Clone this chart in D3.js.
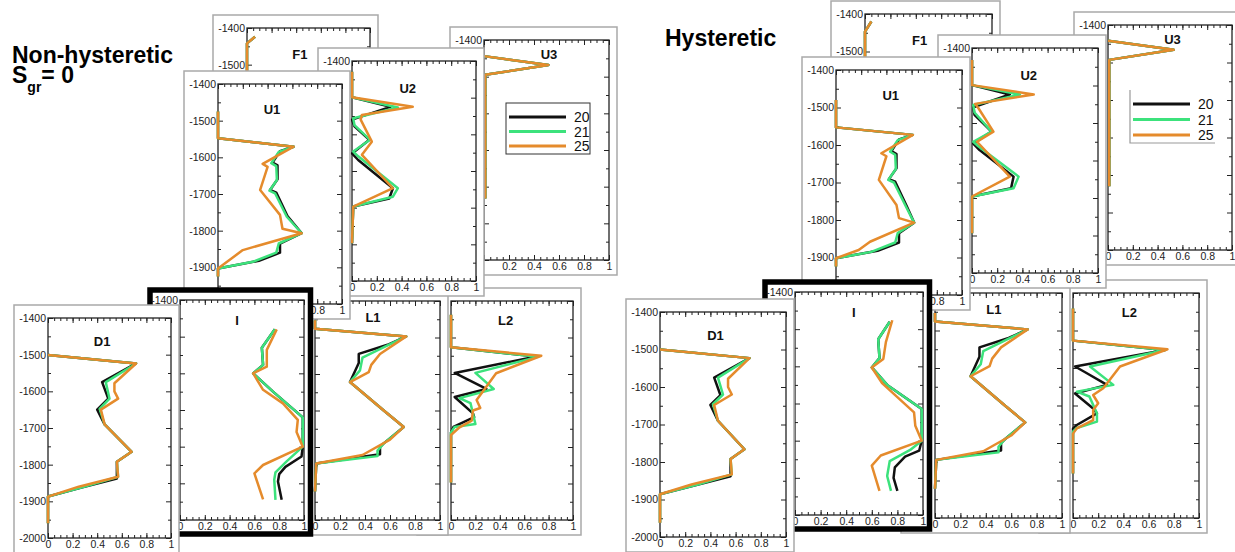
<!DOCTYPE html>
<html>
<head>
<meta charset="utf-8">
<script src="https://cdn.jsdelivr.net/npm/d3@7"></script>
<style>
  body { margin: 0; background: #fff; }
  svg { display: block; font-family: "Liberation Sans", Arial, sans-serif; }
</style>
</head>
<body>
<svg id="chart" width="1235" height="552"></svg>
<script>
// ---------------- data ----------------
const seriesNames = ["20", "21", "25"];
const seriesColors = ["#111111", "#3ce27c", "#e58b2c"];
const depthTicks = [-1400, -1500, -1600, -1700, -1800, -1900, -2000];
const fracTicks = [0, 0.2, 0.4, 0.6, 0.8, 1];
const fracTickLabels = ["0", "0.2", "0.4", "0.6", "0.8", "1"];
const panelNames = ["F1", "U3", "L2", "L1", "U2", "U1", "I", "D1"]; // back to front

// profiles as [fraction, depth]
// ---- non-hysteretic ----
const nhF1_20 = [[0.065, -1424], [0, -1442], [0, -1600]];
const nhF1_21 = [[0.065, -1424], [0, -1442], [0, -1600]];
const nhF1_25 = [[0.065, -1424], [0, -1442], [0, -1600]];

const nhU1_20 = [[0, -1475], [0, -1548], [0.61, -1571], [0.50, -1583], [0.44, -1614], [0.48, -1622], [0.48, -1660], [0.42, -1689], [0.47, -1696], [0.56, -1760], [0.675, -1807], [0.50, -1835], [0.50, -1860], [0.33, -1882], [0, -1903], [0, -1925]];
const nhU1_21 = [[0, -1475], [0, -1548], [0.61, -1571], [0.49, -1585], [0.43, -1616], [0.47, -1624], [0.475, -1662], [0.415, -1691], [0.46, -1698], [0.555, -1762], [0.675, -1807], [0.49, -1835], [0.47, -1860], [0.28, -1885], [0, -1903], [0, -1925]];
const nhU1_25 = [[0, -1475], [0, -1548], [0.61, -1571], [0.36, -1618], [0.40, -1626], [0.34, -1689], [0.50, -1757], [0.52, -1795], [0.675, -1807], [0.20, -1853], [0, -1903], [0, -1925]];

const nhU2_20 = [[0, -1429], [0, -1499], [0.31, -1525], [0, -1560], [0.02, -1578], [0.14, -1615], [0, -1652], [0.05, -1670], [0.33, -1747], [0.30, -1775], [0.01, -1797], [0, -1897]];
const nhU2_21 = [[0, -1429], [0, -1499], [0.37, -1527], [0.01, -1556], [0.02, -1575], [0.145, -1615], [0.01, -1647], [0.05, -1660], [0.37, -1747], [0.33, -1770], [0.01, -1797], [0, -1897]];
const nhU2_25 = [[0, -1429], [0, -1499], [0.49, -1525], [0.08, -1547], [0.07, -1560], [0.16, -1620], [0.08, -1656], [0.33, -1747], [0.01, -1797], [0, -1897]];

const nhU3_20 = [[0, -1444], [0.515, -1468], [0.01, -1495], [0.01, -1832]];
const nhU3_21 = [[0, -1444], [0.515, -1468], [0.01, -1495], [0.01, -1832]];
const nhU3_25 = [[0, -1444], [0.515, -1468], [0.01, -1495], [0.01, -1832]];

const nhD1_20 = [[0, -1501], [0.716, -1524], [0.44, -1575], [0.49, -1620], [0.40, -1650], [0.46, -1690], [0.68, -1765], [0.56, -1792], [0.56, -1838], [0.28, -1862], [0, -1887], [0, -1960]];
const nhD1_21 = [[0, -1501], [0.716, -1524], [0.47, -1575], [0.50, -1620], [0.42, -1648], [0.46, -1690], [0.68, -1765], [0.56, -1792], [0.57, -1833], [0.30, -1860], [0, -1887], [0, -1960]];
const nhD1_25 = [[0, -1501], [0.716, -1524], [0.54, -1578], [0.54, -1600], [0.57, -1620], [0.43, -1650], [0.46, -1690], [0.68, -1765], [0.56, -1792], [0.57, -1833], [0.25, -1860], [0, -1887], [0, -1960]];

const nhI_20 = [[0.765, -1480], [0.66, -1530], [0.67, -1577], [0.59, -1600], [0.75, -1650], [0.99, -1720], [0.99, -1800], [0.98, -1827], [0.85, -1855], [0.80, -1875], [0.79, -1895], [0.82, -1945]];
const nhI_21 = [[0.765, -1480], [0.66, -1530], [0.67, -1577], [0.59, -1600], [0.75, -1650], [0.99, -1720], [0.99, -1800], [0.86, -1840], [0.77, -1870], [0.76, -1890], [0.77, -1945]];
const nhI_25 = [[0.78, -1480], [0.70, -1536], [0.70, -1582], [0.59, -1600], [0.67, -1645], [0.83, -1682], [0.95, -1727], [0.94, -1760], [0.99, -1800], [0.67, -1850], [0.60, -1873], [0.67, -1944]];

const nhL1_20 = [[0, -1453], [0, -1476], [0.73, -1497], [0.58, -1520], [0.35, -1545], [0.35, -1570], [0.28, -1622], [0.55, -1700], [0.71, -1745], [0.55, -1790], [0.52, -1800], [0.52, -1820], [0.01, -1845], [0, -1922]];
const nhL1_21 = [[0, -1453], [0, -1476], [0.73, -1497], [0.56, -1525], [0.38, -1555], [0.36, -1590], [0.28, -1622], [0.55, -1700], [0.71, -1745], [0.55, -1790], [0.50, -1810], [0.50, -1825], [0.01, -1845], [0, -1922]];
const nhL1_25 = [[0, -1453], [0, -1476], [0.73, -1497], [0.52, -1545], [0.45, -1575], [0.43, -1595], [0.28, -1622], [0.55, -1700], [0.71, -1745], [0.60, -1780], [0.38, -1822], [0.01, -1845], [0, -1922]];

const nhL2_20 = [[0, -1438], [0, -1527], [0.70, -1552], [0.03, -1597], [0.29, -1641], [0.03, -1663], [0.18, -1708], [0.19, -1718], [0.02, -1745], [0, -1760], [0, -1897]];
const nhL2_21 = [[0, -1438], [0, -1527], [0.71, -1553], [0.20, -1597], [0.35, -1641], [0.07, -1666], [0.16, -1680], [0.20, -1737], [0.03, -1745], [0, -1760], [0, -1897]];
const nhL2_25 = [[0, -1438], [0, -1527], [0.74, -1550], [0.37, -1598], [0.21, -1671], [0.24, -1693], [0.18, -1700], [0.17, -1728], [0.07, -1746], [0, -1767], [0, -1897]];

// ---- hysteretic ----
const hyF1_20 = [[0.05, -1420], [0, -1447], [0, -1600]];
const hyF1_21 = [[0.05, -1420], [0, -1447], [0, -1600]];
const hyF1_25 = [[0.05, -1420], [0, -1447], [0, -1600]];

const hyU1_20 = [[0, -1480], [0, -1553], [0.61, -1573], [0.50, -1585], [0.44, -1616], [0.48, -1624], [0.48, -1662], [0.42, -1691], [0.47, -1698], [0.56, -1762], [0.62, -1807], [0.50, -1835], [0.50, -1860], [0.33, -1882], [0, -1902], [0, -1924]];
const hyU1_21 = [[0, -1480], [0, -1553], [0.61, -1573], [0.49, -1587], [0.43, -1618], [0.47, -1626], [0.475, -1664], [0.415, -1693], [0.46, -1700], [0.555, -1764], [0.62, -1807], [0.49, -1835], [0.47, -1860], [0.28, -1885], [0, -1902], [0, -1924]];
const hyU1_25 = [[0, -1480], [0, -1553], [0.61, -1573], [0.36, -1622], [0.40, -1630], [0.34, -1693], [0.48, -1760], [0.50, -1795], [0.62, -1807], [0.27, -1858], [0.18, -1880], [0, -1902], [0, -1924]];

const hyU2_20 = [[0, -1432], [0, -1499], [0.30, -1524], [0.01, -1558], [0.02, -1578], [0.155, -1623], [0.01, -1655], [0.06, -1672], [0.33, -1743], [0.31, -1774], [0, -1796], [0, -1894]];
const hyU2_21 = [[0, -1432], [0, -1499], [0.38, -1524], [0.01, -1552], [0.02, -1572], [0.155, -1623], [0.01, -1650], [0.05, -1662], [0.37, -1743], [0.33, -1774], [0, -1796], [0, -1894]];
const hyU2_25 = [[0, -1432], [0, -1499], [0.49, -1524], [0.025, -1549], [0.05, -1560], [0.17, -1623], [0.04, -1650], [0.30, -1743], [0, -1796], [0, -1894]];

const hyU3_20 = [[0, -1442], [0.53, -1466], [0.01, -1493], [0.01, -1830]];
const hyU3_21 = [[0, -1442], [0.53, -1466], [0.01, -1493], [0.01, -1830]];
const hyU3_25 = [[0, -1442], [0.53, -1466], [0.01, -1493], [0.01, -1830]];

const hyD1_20 = [[0, -1500], [0.71, -1523], [0.43, -1575], [0.48, -1622], [0.40, -1648], [0.46, -1690], [0.67, -1766], [0.56, -1792], [0.56, -1838], [0.28, -1862], [0, -1886], [0, -1962]];
const hyD1_21 = [[0, -1500], [0.71, -1523], [0.46, -1575], [0.50, -1620], [0.42, -1646], [0.46, -1690], [0.67, -1766], [0.56, -1792], [0.57, -1833], [0.30, -1860], [0, -1886], [0, -1962]];
const hyD1_25 = [[0, -1500], [0.71, -1523], [0.54, -1578], [0.54, -1600], [0.57, -1620], [0.43, -1648], [0.46, -1690], [0.67, -1766], [0.56, -1792], [0.57, -1833], [0.25, -1860], [0, -1886], [0, -1962]];

const hyI_20 = [[0.74, -1480], [0.65, -1527], [0.66, -1578], [0.60, -1603], [0.72, -1650], [0.99, -1715], [0.99, -1800], [0.97, -1827], [0.86, -1843], [0.78, -1872], [0.77, -1900], [0.80, -1935]];
const hyI_21 = [[0.74, -1480], [0.65, -1527], [0.66, -1578], [0.60, -1603], [0.72, -1650], [0.99, -1715], [0.99, -1800], [0.90, -1825], [0.74, -1855], [0.72, -1895], [0.75, -1935]];
const hyI_25 = [[0.76, -1476], [0.71, -1535], [0.69, -1580], [0.60, -1603], [0.68, -1645], [0.93, -1724], [0.94, -1760], [0.99, -1800], [0.67, -1840], [0.60, -1867], [0.66, -1935]];

const hyL1_20 = [[0, -1453], [0, -1476], [0.73, -1497], [0.58, -1520], [0.35, -1545], [0.35, -1570], [0.28, -1622], [0.55, -1700], [0.71, -1745], [0.55, -1790], [0.52, -1800], [0.52, -1820], [0.01, -1845], [0, -1922]];
const hyL1_21 = [[0, -1453], [0, -1476], [0.73, -1497], [0.56, -1525], [0.38, -1555], [0.36, -1590], [0.28, -1622], [0.55, -1700], [0.71, -1745], [0.55, -1790], [0.50, -1810], [0.50, -1825], [0.01, -1845], [0, -1922]];
const hyL1_25 = [[0, -1453], [0, -1476], [0.73, -1497], [0.52, -1545], [0.45, -1575], [0.43, -1595], [0.28, -1622], [0.55, -1700], [0.71, -1745], [0.60, -1780], [0.38, -1822], [0.01, -1845], [0, -1922]];

const hyL2_20 = [[0, -1441], [0, -1527], [0.73, -1552], [0.016, -1596], [0.10, -1612], [0.27, -1645], [0.016, -1668], [0.16, -1708], [0.19, -1721], [0.03, -1752], [0, -1762], [0, -1881]];
const hyL2_21 = [[0, -1441], [0, -1527], [0.73, -1552], [0.135, -1596], [0.32, -1645], [0.03, -1663], [0.13, -1676], [0.19, -1721], [0.19, -1743], [0.03, -1760], [0, -1770], [0, -1881]];
const hyL2_25 = [[0, -1441], [0, -1527], [0.75, -1550], [0.373, -1596], [0.24, -1654], [0.16, -1672], [0.20, -1694], [0.16, -1712], [0.16, -1739], [0.03, -1761], [0, -1775], [0, -1881]];

// ---------------- layout ----------------
// frame rectangles [left, top, right, bottom] in pixels
const framesNH = {
  F1: [247, 28, 370, 248], U3: [484, 40, 609, 260], L2: [451, 301, 573, 520], L1: [315, 301, 440, 520],
  U2: [352, 61, 476, 281], U1: [218, 84, 342, 304], I: [180, 300, 304, 520], D1: [48, 318, 171, 538]
};
const framesHY = {
  F1: [865, 14, 992, 239], U3: [1108, 25, 1232, 250], L2: [1073, 293, 1199, 518], L1: [935, 293, 1062, 518],
  U2: [972, 48, 1098, 273], U1: [836, 70, 962, 295], I: [795, 292, 923, 515], D1: [660, 312, 786, 537]
};
// panel title: [fraction across frame, baseline below frame top]
const titlePos = {
  F1: [0.43, 31], U3: [0.52, 19], U2: [0.45, 32], U1: [0.435, 30],
  D1: [0.44, 28], I: [0.46, 25], L1: [0.464, 21], L2: [0.447, 24]
};

const profilesNH = {
  F1: [nhF1_20, nhF1_21, nhF1_25], U1: [nhU1_20, nhU1_21, nhU1_25], U2: [nhU2_20, nhU2_21, nhU2_25],
  U3: [nhU3_20, nhU3_21, nhU3_25], D1: [nhD1_20, nhD1_21, nhD1_25], I: [nhI_20, nhI_21, nhI_25],
  L1: [nhL1_20, nhL1_21, nhL1_25], L2: [nhL2_20, nhL2_21, nhL2_25]
};
const profilesHY = {
  F1: [hyF1_20, hyF1_21, hyF1_25], U1: [hyU1_20, hyU1_21, hyU1_25], U2: [hyU2_20, hyU2_21, hyU2_25],
  U3: [hyU3_20, hyU3_21, hyU3_25], D1: [hyD1_20, hyD1_21, hyD1_25], I: [hyI_20, hyI_21, hyI_25],
  L1: [hyL1_20, hyL1_21, hyL1_25], L2: [hyL2_20, hyL2_21, hyL2_25]
};

const svg = d3.select("#chart");
const minorDepth = d3.range(-1450, -2000, -100);
const minorFrac = d3.range(0, 1.0001, 0.05);

function styleAxis(sel) {
  sel.select(".domain").remove();
  sel.selectAll(".tick line").attr("stroke", "#222").attr("stroke-width", 1);
  sel.selectAll(".tick text").attr("fill", "#222").style("font-size", "10.5px")
    .style("font-family", "'Liberation Sans', Arial, sans-serif");
}

// draws one panel; returns its group and the card rectangle (outer edge)
function drawPanel(name, frame, profiles) {
  const [x0, y0, x1, y1] = frame;
  const x = d3.scaleLinear().domain([0, 1]).range([x0, x1]);
  const y = d3.scaleLinear().domain([-1400, -2000]).range([y0, y1]);
  const g = svg.append("g").attr("class", "panel-" + name);
  let card;

  if (name === "I") {
    card = { x: x0 - 30, y: y0 - 10, w: x1 - x0 + 36.5, h: y1 - y0 + 24, sw: 5.5 };
    g.append("rect")
      .attr("x", card.x).attr("y", card.y).attr("width", card.w).attr("height", card.h)
      .attr("fill", "#fff").attr("stroke", "#000").attr("stroke-width", card.sw);
  } else {
    card = { x: x0 - 34, y: y0 - 13, w: x1 - x0 + 42, h: y1 - y0 + 28, sw: 1.5 };
    g.append("rect")
      .attr("x", card.x).attr("y", card.y).attr("width", card.w).attr("height", card.h)
      .attr("fill", "#fff").attr("stroke", "#a9a9a9").attr("stroke-width", card.sw);
  }

  // axes with inward ticks on all four sides
  styleAxis(g.append("g").attr("transform", `translate(${x0},0)`)
    .call(d3.axisLeft(y).tickValues(depthTicks).tickSize(-5).tickPadding(2).tickFormat(d => String(d))));
  styleAxis(g.append("g").attr("transform", `translate(${x0},0)`)
    .call(d3.axisLeft(y).tickValues(minorDepth).tickSize(-3).tickFormat("")));
  styleAxis(g.append("g").attr("transform", `translate(${x1},0)`)
    .call(d3.axisRight(y).tickValues(depthTicks).tickSize(-5).tickFormat("")));
  styleAxis(g.append("g").attr("transform", `translate(${x1},0)`)
    .call(d3.axisRight(y).tickValues(minorDepth).tickSize(-3).tickFormat("")));

  styleAxis(g.append("g").attr("transform", `translate(0,${y1})`)
    .call(d3.axisBottom(x).tickValues(fracTicks).tickSize(-5).tickPadding(3)
      .tickFormat((d, i) => fracTickLabels[i])));
  styleAxis(g.append("g").attr("transform", `translate(0,${y1})`)
    .call(d3.axisBottom(x).tickValues(minorFrac).tickSize(-3).tickFormat("")));
  styleAxis(g.append("g").attr("transform", `translate(0,${y0})`)
    .call(d3.axisTop(x).tickValues(fracTicks).tickSize(-5).tickFormat("")));
  styleAxis(g.append("g").attr("transform", `translate(0,${y0})`)
    .call(d3.axisTop(x).tickValues(minorFrac).tickSize(-3).tickFormat("")));

  g.append("rect")
    .attr("x", x0).attr("y", y0).attr("width", x1 - x0).attr("height", y1 - y0)
    .attr("fill", "none").attr("stroke", "#222").attr("stroke-width", 1.3);

  // profiles
  const line = d3.line().x(d => x(d[0])).y(d => y(d[1]));
  profiles.forEach((pts, i) => {
    g.append("path").datum(pts)
      .attr("d", line)
      .attr("fill", "none")
      .attr("stroke", seriesColors[i])
      .attr("stroke-width", 2.5)
      .attr("stroke-linejoin", "round");
  });

  const tp = titlePos[name];
  g.append("text")
    .attr("x", x0 + tp[0] * (x1 - x0)).attr("y", y0 + tp[1])
    .attr("text-anchor", "middle")
    .attr("font-weight", "bold").attr("font-size", 13).attr("fill", "#111")
    .text(name);

  return { g, card };
}

// labels lying (all but a sliver) under a card stacked above them are never seen; drop them
function pruneCovered(stack) {
  const tol = 3;
  stack.forEach((p, i) => {
    const above = stack.slice(i + 1).map(q => q.card);
    p.g.selectAll("text").each(function () {
      const b = this.getBoundingClientRect();
      const covered = above.some(c => {
        const h = c.sw / 2 + tol;
        return b.left >= c.x - h && b.right <= c.x + c.w + h && b.top >= c.y - h && b.bottom <= c.y + c.h + h;
      });
      if (covered) d3.select(this).remove();
    });
  });
}

function drawLegend(box, framed) {
  const [bx0, by0, bx1, by1] = box;
  const g = svg.append("g");
  if (framed) {
    g.append("rect").attr("x", bx0).attr("y", by0).attr("width", bx1 - bx0).attr("height", by1 - by0)
      .attr("fill", "#fff").attr("stroke", "#333").attr("stroke-width", 1);
  } else {
    g.append("rect").attr("x", bx0).attr("y", by0).attr("width", bx1 - bx0).attr("height", by1 - by0)
      .attr("fill", "#fff");
    g.append("path").attr("d", `M${bx0},${by0}V${by1}H${bx1}`)
      .attr("fill", "none").attr("stroke", "#999").attr("stroke-width", 1.2);
  }
  const rowY = d3.scalePoint().domain(seriesNames).range([by0 + 14, by1 - 8]);
  seriesNames.forEach((s, i) => {
    g.append("line")
      .attr("x1", bx0 + 3).attr("x2", bx0 + 60)
      .attr("y1", rowY(s)).attr("y2", rowY(s))
      .attr("stroke", seriesColors[i]).attr("stroke-width", 3);
    g.append("text")
      .attr("x", bx0 + 68).attr("y", rowY(s) + 5)
      .attr("font-size", 14).attr("fill", "#111")
      .text(s);
  });
}

// group headings (the first one runs over two lines)
const headNH = svg.append("text")
  .attr("font-weight", "bold").attr("font-size", 23).attr("fill", "#000");
headNH.append("tspan").attr("x", 12).attr("y", 62.5).text("Non-hysteretic");
headNH.append("tspan").attr("x", 12).attr("y", 83).text("S");
headNH.append("tspan").attr("dy", 9).attr("font-size", 14).text("gr");
headNH.append("tspan").attr("dy", -9).text("= 0");
svg.append("text").attr("x", 665).attr("y", 46)
  .attr("font-weight", "bold").attr("font-size", 23).attr("fill", "#000")
  .text("Hysteretic");

// panels, back to front
const stackNH = panelNames.map(n => drawPanel(n, framesNH[n], profilesNH[n]));
pruneCovered(stackNH);
drawLegend([506, 103, 590, 154], true);
const stackHY = panelNames.map(n => drawPanel(n, framesHY[n], profilesHY[n]));
pruneCovered(stackHY);
drawLegend([1130, 90, 1215, 143], false);
</script>
</body>
</html>
